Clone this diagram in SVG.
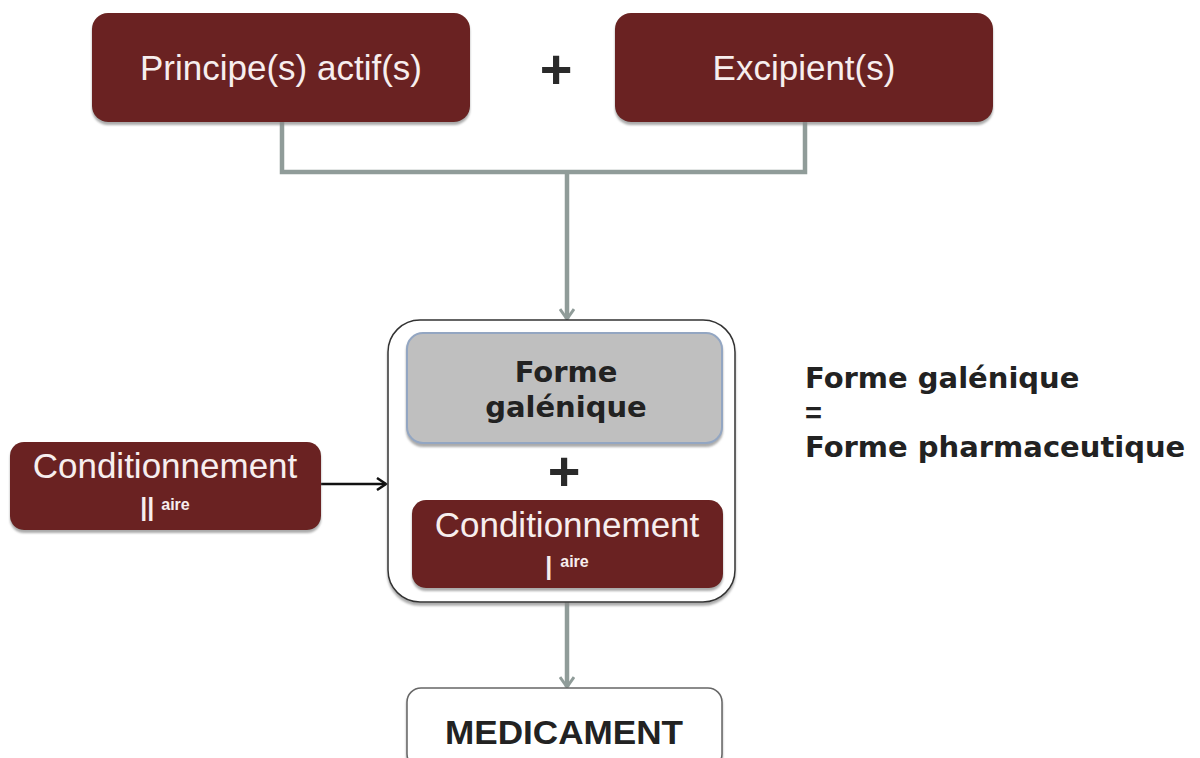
<svg xmlns="http://www.w3.org/2000/svg" width="1200" height="758" viewBox="0 0 1200 758">
<defs>
<style>
.dark{fill:#6a2421;stroke:none}
.wt{fill:#f7eeee;font-family:"Liberation Sans",Arial,sans-serif;text-anchor:middle;font-size:35px}
.bt{fill:#222;font-family:"DejaVu Sans","Liberation Sans",sans-serif;font-weight:bold}
.plus{fill:#2a2a2a;font-family:"Liberation Sans",Arial,sans-serif;font-weight:bold;font-size:56px;text-anchor:middle}
.conn{fill:none;stroke:#909c99;stroke-width:4.5}
.bar{font-weight:bold;font-size:25px}
.sup{font-size:16px;font-weight:bold}
</style>
<filter id="sh" x="-5%" y="-5%" width="110%" height="120%">
<feDropShadow dx="0" dy="3" stdDeviation="1.2" flood-color="#888" flood-opacity="0.7"/>
</filter>
<marker id="ag" markerWidth="16" markerHeight="14" refX="8" refY="12" orient="0" markerUnits="userSpaceOnUse">
<path d="M1,2 L8,12 L15,2" fill="none" stroke="#909c99" stroke-width="3"/>
</marker>
<marker id="ab" markerWidth="14" markerHeight="14" refX="11" refY="7" orient="auto" markerUnits="userSpaceOnUse">
<path d="M2,1 L11,7 L2,13" fill="none" stroke="#111" stroke-width="2.5"/>
</marker>
</defs>
<rect width="1200" height="758" fill="#fff"/>
<g id="connectors">
<path class="conn" d="M282,122 V172 H805 V122"/>
<path class="conn" d="M567,172 V319" marker-end="url(#ag)"/>
<path class="conn" d="M567,602 V687" marker-end="url(#ag)"/>
<path d="M321,484 H386" fill="none" stroke="#111" stroke-width="2.5" marker-end="url(#ab)"/>
</g>
<g id="principe">
<rect class="dark" x="92" y="13" width="378" height="109" rx="16" filter="url(#sh)"/>
<text class="wt" x="281" y="80">Principe(s) actif(s)</text>
</g>
<g id="plus-top">
<text class="plus" x="556" y="88">+</text>
</g>
<g id="excipient">
<rect class="dark" x="615" y="13" width="378" height="109" rx="16" filter="url(#sh)"/>
<text class="wt" x="804" y="80">Excipient(s)</text>
</g>
<g id="container">
<rect x="388" y="320" width="347" height="282" rx="32" fill="#fff" stroke="#333" stroke-width="1.5" filter="url(#sh)"/>
</g>
<g id="forme-galenique">
<rect x="407" y="333" width="315" height="110" rx="16" fill="#bfbfbf" stroke="#93a6c2" stroke-width="2" filter="url(#sh)"/>
<text class="bt" x="566" y="382" font-size="29" text-anchor="middle">Forme</text>
<text class="bt" x="566" y="417" font-size="29" text-anchor="middle">galénique</text>
</g>
<g id="plus-mid">
<text class="plus" x="564" y="490">+</text>
</g>
<g id="cond1">
<rect class="dark" x="412" y="500" width="311" height="88" rx="14" filter="url(#sh)"/>
<text class="wt" x="567" y="537">Conditionnement</text>
<text class="wt" x="567" y="575"><tspan class="bar">|</tspan><tspan class="sup" dx="8" dy="-8">aire</tspan></text>
</g>
<g id="cond2">
<rect class="dark" x="10" y="442" width="311" height="88" rx="14" filter="url(#sh)"/>
<text class="wt" x="165" y="478">Conditionnement</text>
<text class="wt" x="165" y="516"><tspan class="bar">||</tspan><tspan class="sup" dx="7" dy="-6">aire</tspan></text>
</g>
<g id="medicament">
<rect x="407" y="688" width="315" height="80" rx="14" fill="#fff" stroke="#666" stroke-width="1.5" filter="url(#sh)"/>
<text x="564" y="744" font-family="Liberation Sans,Arial,sans-serif" font-weight="bold" font-size="34" fill="#222" text-anchor="middle" textLength="238" lengthAdjust="spacingAndGlyphs">MEDICAMENT</text>
</g>
<g id="definition">
<text class="bt" x="805" y="388" font-size="29">Forme galénique</text>
<text x="805" y="423" font-family="Liberation Sans,Arial,sans-serif" font-weight="bold" font-size="29" fill="#222">=</text>
<text class="bt" x="805" y="457" font-size="29">Forme pharmaceutique</text>
</g>
</svg>
